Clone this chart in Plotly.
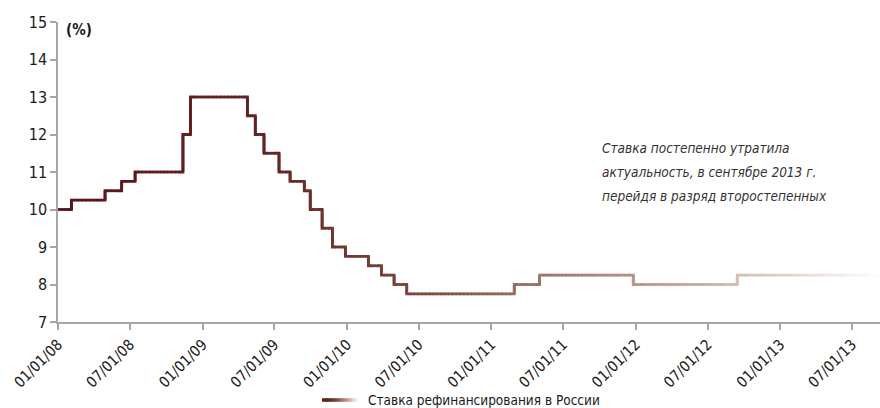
import plotly.graph_objects as go
import pandas as pd
import numpy as np

# ---- data ----
change_dates = ["2008-01-01", "2008-02-04", "2008-04-29", "2008-06-10", "2008-07-14",
                "2008-11-12", "2008-12-01", "2009-04-24", "2009-05-14", "2009-06-05",
                "2009-07-13", "2009-08-10", "2009-09-15", "2009-09-30", "2009-10-30",
                "2009-11-25", "2009-12-28", "2010-02-24", "2010-03-29", "2010-04-30",
                "2010-06-01", "2011-02-28", "2011-05-03", "2011-12-26", "2012-09-14"]
rates = [10, 10.25, 10.5, 10.75, 11, 12, 13, 12.5, 12, 11.5, 11, 10.75, 10.5, 10,
         9.5, 9, 8.75, 8.5, 8.25, 8, 7.75, 8, 8.25, 8, 8.25]
end_date = "2013-09-13"
tick_dates = ["2008-01-01", "2008-07-01", "2009-01-01", "2009-07-01", "2010-01-01",
              "2010-07-01", "2011-01-01", "2011-07-01", "2012-01-01", "2012-07-01",
              "2013-01-01", "2013-07-01"]
tick_labels = ["01/01/08", "07/01/08", "01/01/09", "07/01/09", "01/01/10", "07/01/10",
               "01/01/11", "07/01/11", "01/01/12", "07/01/12", "01/01/13", "07/01/13"]
series_name = "Ставка рефинансирования в России"
note_lines = ["Ставка постепенно утратила",
              "актуальность, в сентябре 2013 г.",
              "перейдя в разряд второстепенных"]

x_start = pd.Timestamp("2008-01-01")
x_end = pd.Timestamp("2013-09-10")
FONT = "Liberation Sans Narrow, DejaVu Sans Condensed, Roboto, sans-serif"

# gradient colour stops (fraction along x, rgb)
stops = [(0.0, (88, 20, 24)), (0.25, (98, 36, 34)), (0.45, (125, 74, 64)),
         (0.61, (163, 122, 110)), (0.78, (200, 170, 162)), (0.9, (232, 215, 210)),
         (1.0, (255, 255, 255))]


def colour(t):
    t = min(max(t, 0), 1)
    for (a, ca), (b, cb) in zip(stops[:-1], stops[1:]):
        if a <= t <= b:
            f = (t - a) / (b - a)
            c = [round(ca[k] + (cb[k] - ca[k]) * f) for k in range(3)]
            return "rgb(%d,%d,%d)" % tuple(c)
    return "rgb(255,255,255)"


span = (x_end - x_start).total_seconds()
NB = 70
bins = {i: ([], []) for i in range(NB)}
dts = [pd.Timestamp(d) for d in change_dates] + [pd.Timestamp(end_date)]
overlap = pd.Timedelta(days=2)
for i, r in enumerate(rates):
    a, b = dts[i], dts[i + 1]
    n = max(1, int(np.ceil((b - a).days / 10)))
    edges = [a + (b - a) * k / n for k in range(n + 1)]
    for k in range(n):
        p0, p1 = edges[k], edges[k + 1]
        mid = p0 + (p1 - p0) / 2
        t = (mid - x_start).total_seconds() / span
        bi = min(NB - 1, max(0, int(t * NB)))
        xs, ys = bins[bi]
        if k == 0 and i > 0:
            xs += [p0, p0]
            ys += [rates[i - 1], r]
        else:
            xs.append(p0 - overlap if k > 0 else p0)
            ys.append(r)
        xs.append(p1)
        ys.append(r)
        if k == n - 1 and i + 1 < len(rates):
            xs.append(p1)
            ys.append(rates[i + 1])
        xs.append(None)
        ys.append(None)

fig = go.Figure()
for bi in range(NB):
    xs, ys = bins[bi]
    if not xs:
        continue
    fig.add_trace(go.Scatter(x=xs, y=ys, mode="lines", showlegend=False,
                             hoverinfo="skip",
                             line=dict(color=colour((bi + 0.5) / NB), width=2.8)))

# legend swatch (gradient)
sx0, sx1, sy = (322 - 58) / 822, (357 - 58) / 822, (322 - 400) / 300
nseg = 14
for k in range(nseg):
    fig.add_shape(type="line", xref="paper", yref="paper",
                  x0=sx0 + (sx1 - sx0) * k / nseg, x1=sx0 + (sx1 - sx0) * (k + 1) / nseg + 0.001,
                  y0=sy, y1=sy, line=dict(color=colour(0.1 + 0.9 * k / (nseg - 1) * 0.95), width=3.5))
fig.add_annotation(text=series_name, xref="paper", yref="paper", x=(366 - 58) / 822, y=sy,
                   xanchor="left", yanchor="middle", showarrow=False,
                   font=dict(family=FONT, size=13.5, color="#1a1a1a"))

fig.add_annotation(text="<b>(%)</b>", xref="paper", yref="paper", x=(64 - 58) / 822,
                   y=(322 - 30) / 300, xanchor="left", yanchor="middle", showarrow=False,
                   font=dict(family=FONT, size=15, color="#1a1a1a"))

for j, line in enumerate(note_lines):
    fig.add_annotation(text=line, xref="paper", yref="paper", x=(600 - 58) / 822,
                       y=(322 - (148 + 24 * j)) / 300, xanchor="left", yanchor="middle",
                       showarrow=False,
                       font=dict(family=FONT, size=13.5, color="#333333", style="italic"))

fig.update_layout(
    width=880, height=408, margin=dict(l=58, r=0, t=22, b=86),
    paper_bgcolor="white", plot_bgcolor="white",
    font=dict(family=FONT, size=15, color="#1a1a1a"),
    xaxis=dict(type="date", range=[x_start, x_end], tickvals=tick_dates, ticktext=tick_labels,
               tickangle=-45, showgrid=False, zeroline=False, showline=True,
               linecolor="#a6a6a6", linewidth=1.5, ticks="outside", ticklen=6,
               tickcolor="#a6a6a6", tickwidth=1.5, tickfont=dict(size=15)),
    yaxis=dict(range=[7, 15], dtick=1, showgrid=False, zeroline=False, showline=True,
               linecolor="#a6a6a6", linewidth=1.5, ticks="outside", ticklen=6,
               tickcolor="#a6a6a6", tickwidth=1.5, tickfont=dict(size=16)),
)

fig.write_html("out.html")
